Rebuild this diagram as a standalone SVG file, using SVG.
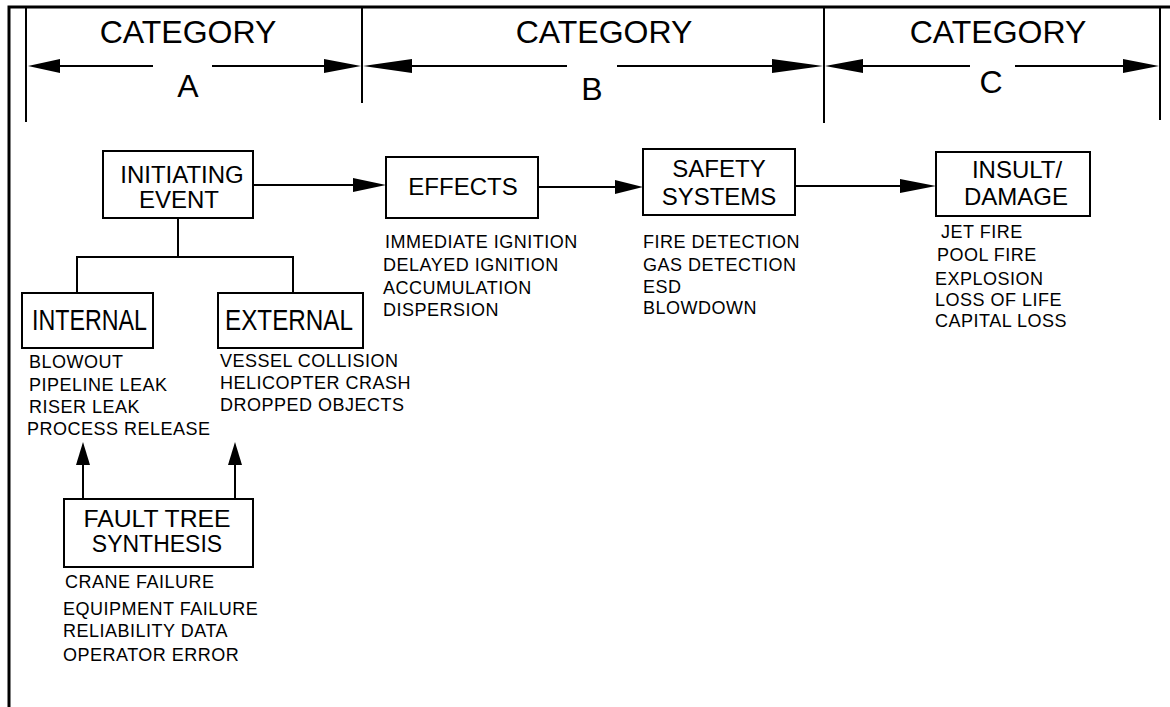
<svg xmlns="http://www.w3.org/2000/svg" width="1170" height="707" viewBox="0 0 1170 707">
<style>
  text { font-family: "Liberation Sans", Arial, sans-serif; fill: #000; }
  .hdr { font-size: 32px; text-anchor: middle; }
  .lbl { font-size: 24px; text-anchor: middle; }
  .lbl2 { font-size: 23px; text-anchor: middle; }
  .tall { font-size: 29px; }
  .lst { font-size: 18px; letter-spacing: 0.5px; }
  .box { fill: #fff; stroke: #000; stroke-width: 2; }
  .ln { stroke: #000; stroke-width: 2; fill: none; }
  .frame { stroke: #000; stroke-width: 3; fill: none; }
  .ah { fill: #000; stroke: none; }
</style>

<g id="frame">
  <polyline class="frame" points="1170,7 9,7 9,707"/>
</g>

<g id="category-header">
  <line class="ln" x1="26" y1="8" x2="26" y2="122"/>
  <line class="ln" x1="362" y1="8" x2="362" y2="103"/>
  <line class="ln" x1="824" y1="8" x2="824" y2="123"/>
  <line class="ln" x1="1160" y1="8" x2="1160" y2="120"/>
  <line class="ln" x1="40" y1="66" x2="153" y2="66"/>
  <line class="ln" x1="212" y1="66" x2="340" y2="66"/>
  <polygon class="ah" points="28,66 60,59 60,73"/>
  <polygon class="ah" points="361,66 324,59 324,73"/>
  <line class="ln" x1="380" y1="66" x2="567" y2="66"/>
  <line class="ln" x1="617" y1="66" x2="800" y2="66"/>
  <polygon class="ah" points="363,66 412,59 412,73"/>
  <polygon class="ah" points="823,66 772,59 772,73"/>
  <line class="ln" x1="840" y1="66" x2="970" y2="66"/>
  <line class="ln" x1="1015" y1="66" x2="1140" y2="66"/>
  <polygon class="ah" points="825,66 863,59 863,73"/>
  <polygon class="ah" points="1159,66 1123,59 1123,73"/>
  <text class="hdr" x="188" y="43">CATEGORY</text>
  <text class="hdr" x="188" y="97">A</text>
  <text class="hdr" x="604" y="43">CATEGORY</text>
  <text class="hdr" x="592" y="100">B</text>
  <text class="hdr" x="998" y="43">CATEGORY</text>
  <text class="hdr" x="991" y="93">C</text>
</g>

<g id="connectors">
  <line class="ln" x1="253" y1="185" x2="360" y2="185"/>
  <polygon class="ah" points="386,185 353,178 353,192"/>
  <line class="ln" x1="538" y1="187" x2="620" y2="187"/>
  <polygon class="ah" points="643,187 615,180 615,194"/>
  <line class="ln" x1="795" y1="186" x2="905" y2="186"/>
  <polygon class="ah" points="936,186 900,179 900,193"/>
  <polyline class="ln" points="178,218 178,257"/>
  <polyline class="ln" points="77,293 77,257 293,257 293,293"/>
  <line class="ln" x1="83" y1="499" x2="83" y2="460"/>
  <polygon class="ah" points="83,442 76,465 90,465"/>
  <line class="ln" x1="235" y1="499" x2="235" y2="460"/>
  <polygon class="ah" points="235,442 228,465 242,465"/>
</g>

<g id="node-initiating">
  <rect class="box" x="103" y="151" width="150" height="67"/>
  <text class="lbl" x="182" y="183">INITIATING</text>
  <text class="lbl" x="179" y="208">EVENT</text>
</g>

<g id="node-effects">
  <rect class="box" x="386" y="157" width="152" height="61"/>
  <text class="lbl" x="463" y="195">EFFECTS</text>
  <text class="lst" x="385" y="248">IMMEDIATE IGNITION</text>
  <text class="lst" x="383" y="271">DELAYED IGNITION</text>
  <text class="lst" x="383" y="294">ACCUMULATION</text>
  <text class="lst" x="383" y="316">DISPERSION</text>
</g>

<g id="node-safety">
  <rect class="box" x="643" y="149" width="152" height="66"/>
  <text class="lbl" x="719" y="177">SAFETY</text>
  <text class="lbl" x="719" y="205">SYSTEMS</text>
  <text class="lst" x="643" y="248">FIRE DETECTION</text>
  <text class="lst" x="643" y="271">GAS DETECTION</text>
  <text class="lst" x="643" y="293">ESD</text>
  <text class="lst" x="643" y="314">BLOWDOWN</text>
</g>

<g id="node-insult">
  <rect class="box" x="936" y="152" width="154" height="64"/>
  <text class="lbl" x="1017" y="178">INSULT/</text>
  <text class="lbl" x="1016" y="205">DAMAGE</text>
  <text class="lst" x="941" y="238">JET FIRE</text>
  <text class="lst" x="937" y="261">POOL FIRE</text>
  <text class="lst" x="935" y="285">EXPLOSION</text>
  <text class="lst" x="935" y="306">LOSS OF LIFE</text>
  <text class="lst" x="935" y="327">CAPITAL LOSS</text>
</g>

<g id="node-internal">
  <rect class="box" x="22" y="293" width="131" height="55"/>
  <text class="tall" x="32" y="330" textLength="115" lengthAdjust="spacingAndGlyphs">INTERNAL</text>
  <text class="lst" x="29" y="368">BLOWOUT</text>
  <text class="lst" x="29" y="391">PIPELINE LEAK</text>
  <text class="lst" x="29" y="413">RISER LEAK</text>
  <text class="lst" x="27" y="435">PROCESS RELEASE</text>
</g>

<g id="node-external">
  <rect class="box" x="218" y="293" width="145" height="55"/>
  <text class="tall" x="225" y="330" textLength="128" lengthAdjust="spacingAndGlyphs">EXTERNAL</text>
  <text class="lst" x="220" y="367">VESSEL COLLISION</text>
  <text class="lst" x="220" y="389">HELICOPTER CRASH</text>
  <text class="lst" x="220" y="411">DROPPED OBJECTS</text>
</g>

<g id="node-fault-tree">
  <rect class="box" x="64" y="499" width="189" height="68"/>
  <text class="lbl2" x="157" y="527" textLength="147" lengthAdjust="spacingAndGlyphs">FAULT TREE</text>
  <text class="lbl2" x="157" y="552">SYNTHESIS</text>
  <text class="lst" x="65" y="588">CRANE FAILURE</text>
  <text class="lst" x="63" y="615">EQUIPMENT FAILURE</text>
  <text class="lst" x="63" y="637">RELIABILITY DATA</text>
  <text class="lst" x="63" y="661">OPERATOR ERROR</text>
</g>
</svg>
